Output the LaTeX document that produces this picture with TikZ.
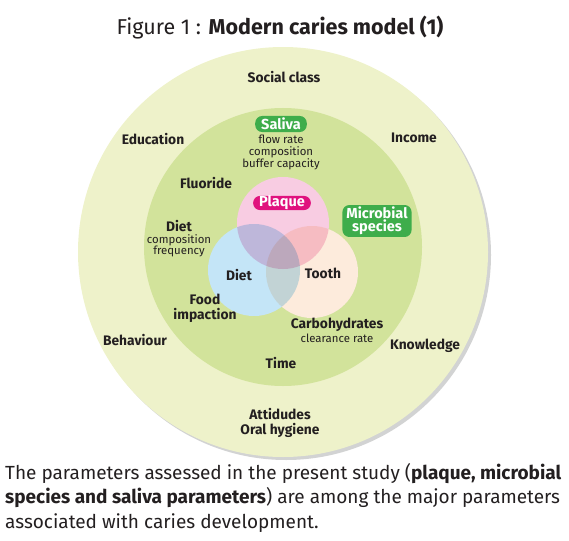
\documentclass[tikz,border=0pt]{standalone}
\usepackage{fontspec}
\setmainfont{Fira Sans}
\usepackage{xcolor}
\usepackage{tikz}
\usetikzlibrary{positioning}

\definecolor{outerring}{HTML}{EEF2CA}
\definecolor{innerring}{HTML}{D2E39B}
\definecolor{ringshadow}{HTML}{D2D3D3}
\definecolor{plaquefill}{HTML}{F8CCE2}
\definecolor{dietfill}{HTML}{C4E5F7}
\definecolor{toothfill}{HTML}{FDEBDC}
\definecolor{badgegreen}{HTML}{3EAD4B}
\definecolor{badgepink}{HTML}{E0127E}
\definecolor{inktext}{HTML}{231F20}

\tikzset{
  factor/.style={font=\bfseries\fontsize{13.8}{15}\selectfont, text=inktext, align=center, inner sep=1pt},
  detail/.style={font=\fontsize{11.4}{11.8}\selectfont, text=inktext, align=center, inner sep=1pt},
  badge/.style={font=\bfseries\fontsize{14.5}{15}\selectfont, text=white, align=center,
    rounded corners=7pt, inner xsep=6pt, inner ysep=1pt},
}

\begin{document}
\begin{tikzpicture}[x=1pt, y=-1pt]
\useasboundingbox (0,0) rectangle (569,540);

% Title
\node[font=\fontsize{21.5}{24}\selectfont, text=inktext] (title) at (280, 28)
  {Figure 1 : \textbf{Modern caries model (1)}};

% Rings
\fill[ringshadow] (286, 255) circle (205pt);
\fill[outerring] (283, 252) circle (205pt);
\fill[innerring] (283, 247) circle (139pt);

% Venn circles
\fill[white] (283, 223) circle (46pt) (254, 270) circle (46pt) (312, 272) circle (46pt);
\begin{scope}[blend mode=multiply]
\fill[plaquefill] (283, 223) circle (46pt);
\fill[dietfill] (254, 270) circle (46pt);
\fill[toothfill] (312, 272) circle (46pt);
\end{scope}

% Outer ring factors
\node[factor] (social) at (284, 77) {Social class};
\node[factor] (education) at (153, 139) {Education};
\node[factor] (income) at (414, 138) {Income};
\node[factor] (behaviour) at (135, 340) {Behaviour};
\node[factor] (knowledge) at (425, 346) {Knowledge};
\node[factor] (attitudes) at (280, 423) {Attidudes\\Oral hygiene};

% Inner ring factors
\node[badge, fill=badgegreen, inner ysep=2pt] (saliva) at (281, 124) {Saliva};
\node[detail, below=1.5pt of saliva] (salivadet) {flow rate\\composition\\buffer capacity};
\node[factor] (fluoride) at (206, 183) {Fluoride};
\node[factor] (diet) at (179, 226) {Diet};
\node[detail, below=0pt of diet] (dietdet) {composition\\frequency};
\node[badge, fill=badgepink, inner ysep=0pt] (plaque) at (282, 203) {Plaque};
\node[badge, fill=badgegreen, inner xsep=4pt, inner ysep=2pt] (microbial) at (377, 221) {Microbial\\[-2pt]species};
\node[factor] (food) at (205, 308) {Food\\impaction};
\node[factor] (carbo) at (337, 325) {Carbohydrates};
\node[detail, below=0pt of carbo] (carbodet) {clearance rate};
\node[factor] (time) at (281, 363) {Time};

% Venn labels
\node[factor] (dietlbl) at (239, 275) {Diet};
\node[factor] (tooth) at (323, 273) {Tooth};

% Caption
\node[font=\fontsize{19}{24.5}\selectfont, text=inktext, align=left, anchor=north west, inner sep=0pt] (caption) at (5, 463)
  {The parameters assessed in the present study (\textbf{plaque, microbial}\\
   \textbf{species and saliva parameters}) are among the major parameters\\
   associated with caries development.};

\end{tikzpicture}
\end{document}
